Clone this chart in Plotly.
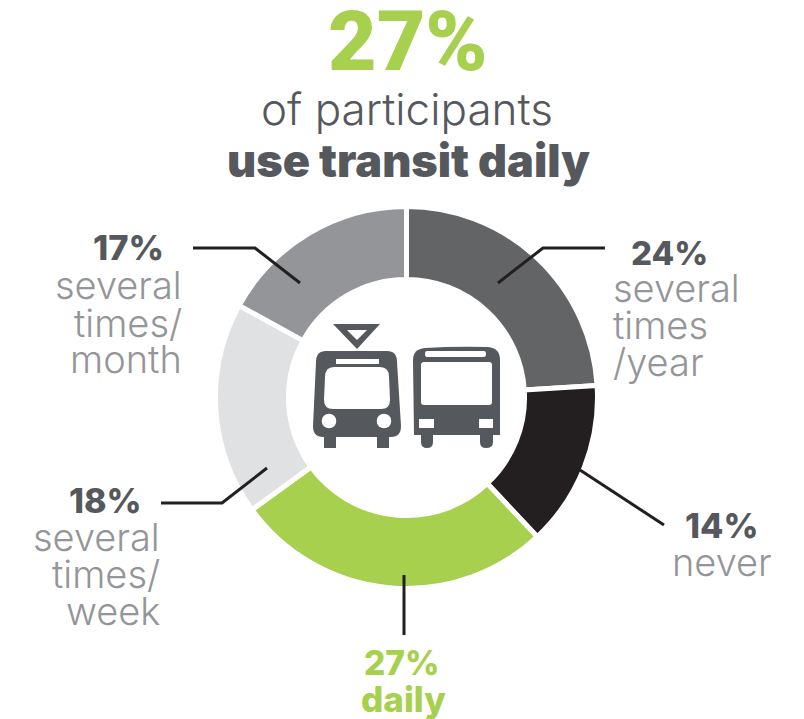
import plotly.graph_objects as go

categories = ["several times /year", "never", "daily", "several times/ week", "several times/ month"]
values = [24, 14, 27, 18, 17]
colors = ["#636466", "#231f20", "#a6d04e", "#e0e1e3", "#939598"]

DARK = "#55585c"
GREY = "#939598"
GREEN = "#a6d04e"
W, H = 804, 719
cx0, cx1, cy0, cy1 = 215.5, 597.5, 206.5, 588.5

fig = go.Figure(go.Pie(
    labels=categories, values=values, sort=False, direction="clockwise", rotation=0,
    hole=0.618, textinfo="none", showlegend=False,
    marker=dict(colors=colors, line=dict(color="white", width=5)),
    domain=dict(x=[cx0 / W, cx1 / W], y=[1 - cy1 / H, 1 - cy0 / H]),
))


def path(*pts):
    return "M" + " L".join(f"{x},{y}" for x, y in pts)


def leader(*pts):
    return dict(type="path", path=path(*pts), line=dict(color="#231f20", width=3), layer="above")


def solid(p, color=DARK):
    return dict(type="path", path=p, fillcolor=color, line=dict(width=0), layer="above")


def rect(x0, y0, x1, y1, color="white"):
    return dict(type="rect", x0=x0, y0=y0, x1=x1, y1=y1, fillcolor=color, line=dict(width=0), layer="above")


def circle(x, y, r, color="white"):
    return dict(type="circle", x0=x - r, x1=x + r, y0=y - r, y1=y + r, fillcolor=color, line=dict(width=0), layer="above")


shapes = [
    leader((193, 248), (255, 248), (300, 283)),
    leader((605, 248), (543, 248), (498, 283)),
    leader((580, 470), (664, 525)),
    leader((404, 575), (404, 635)),
    leader((161, 503), (222, 503), (267, 468)),
    # tram
    solid("M333,324 L380,324 L357,349 Z M347,330 L357,340 L367,330 Z"),
    solid("M326,351 L387,351 Q397,351 397,362 L401,426 Q401,437 391,437 L323,437 Q313,437 313,426 L316,362 Q316,351 326,351 Z"),
    rect(324, 432, 336, 448, DARK),
    rect(377, 432, 389, 448, DARK),
    solid("M336,359 L379,359 L379,364 L336,364 Z", "white"),
    solid("M334,367 L380,367 Q389,367 389,377 L390,400 Q390,409 381,409 L333,409 Q324,409 324,400 L325,377 Q325,367 334,367 Z", "white"),
    circle(329, 421, 7.3),
    circle(384, 421, 7.3),
    # bus
    solid("M425,348 Q456,346 488,347 Q500,348 500,360 L500,435 L414,435 L413,360 Q413,349 425,348 Z"),
    solid("M421,432 L433,432 L433,442 Q433,448 427,448 Q421,448 421,442 Z"),
    solid("M480,432 L493,432 L493,442 Q493,448 486,448 Q480,448 480,442 Z"),
    solid("M427,351 L484,351 Q486,351 486,354 Q486,357 484,357 L427,357 Q425,357 425,354 Q425,351 427,351 Z", "white"),
    solid("M424,362 L489,362 Q492,362 492,365 L492,402 Q492,405 489,405 L424,405 Q421,405 421,402 L421,365 Q421,362 424,362 Z", "white"),
    rect(419, 419, 434, 428),
    rect(479, 419, 493, 428),
]

FAM = "Inter"


def txt(x, y, s, size, color, weight=300, anchor="center", family=FAM):
    return dict(x=x, y=y, xref="x", yref="y", text=s, showarrow=False, xanchor=anchor, yanchor="middle",
                font=dict(family=family, size=size, color=color, weight=weight))


annotations = [
    txt(408, 41, "27%", 84, GREEN, 900, family="Roboto"),
    txt(407, 109, "of participants", 44, DARK, 300),
    txt(408, 160, "use transit daily", 45, DARK, 900),
    txt(166, 247, "17%", 34.5, DARK, 800, "right"),
    txt(184, 285, "several", 38, GREY, 300, "right"),
    txt(184, 323, "times/", 38, GREY, 300, "right"),
    txt(184, 359, "month", 38, GREY, 300, "right"),
    txt(629, 253, "24%", 33, DARK, 800, "left"),
    txt(611, 288, "several", 38, GREY, 300, "left"),
    txt(611, 325, "times", 38, GREY, 300, "left"),
    txt(611, 362, "/year", 38, GREY, 300, "left"),
    txt(683, 525, "14%", 34, DARK, 800, "left"),
    txt(670, 562, "never", 38, GREY, 300, "left"),
    txt(402, 663, "27%", 33.5, GREEN, 800),
    txt(403, 699, "daily", 35, GREEN, 800),
    txt(144, 500, "18%", 34, DARK, 800, "right"),
    txt(162, 537, "several", 38, GREY, 300, "right"),
    txt(162, 574, "times/", 38, GREY, 300, "right"),
    txt(162, 611, "week", 38, GREY, 300, "right"),
]

fig.update_layout(
    width=W, height=H, margin=dict(l=0, r=0, t=0, b=0, pad=0), autosize=False,
    paper_bgcolor="white", plot_bgcolor="rgba(0,0,0,0)",
    xaxis=dict(range=[0, W], visible=False, fixedrange=True),
    yaxis=dict(range=[H, 0], visible=False, fixedrange=True),
    shapes=shapes, annotations=annotations,
)
fig.write_html("out.html", config=dict(displayModeBar=False),
               post_script="document.body.style.margin='0';document.body.style.overflow='hidden';")
